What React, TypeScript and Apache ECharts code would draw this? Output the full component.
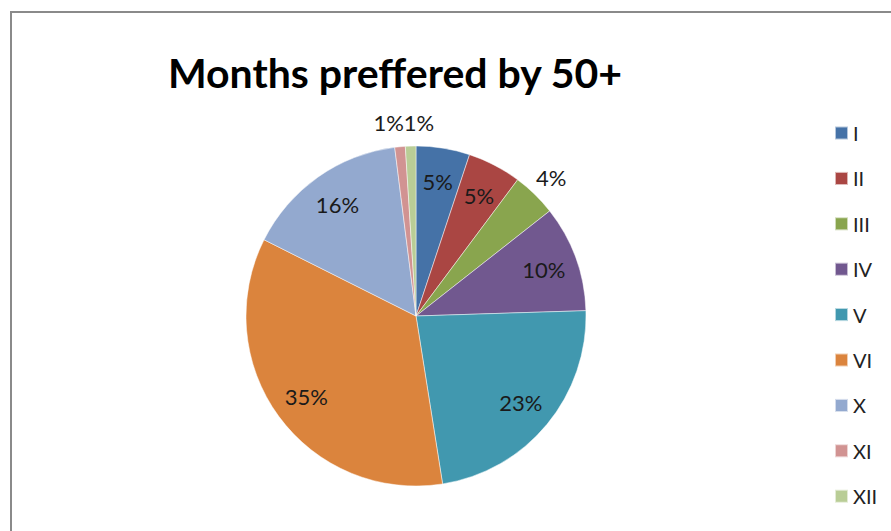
import React, { useEffect, useRef } from "react";
import * as echarts from "echarts";

const categories = ["I", "II", "III", "IV", "V", "VI", "X", "XI", "XII"];
const values = [5.1, 5.1, 4.2, 10.1, 23.0, 34.9, 15.6, 1.0, 1.0];
const colors = ["#4572A7", "#AA4643", "#89A54E", "#71588F", "#4198AF", "#DB843D", "#93A9CF", "#D19392", "#B9CD96"];
const outsideLabels = ["III", "XI", "XII"];
const titleText = "Months preffered by 50+";

const CX = 416;
const CY = 316;
const R = 170;

export default function App() {
  const ref = useRef<HTMLDivElement>(null);
  useEffect(() => {
    if (!ref.current) return;
    const chart = echarts.init(ref.current, null, { renderer: "svg" });
    const total = values.reduce((a, b) => a + b, 0);
    const cum: number[] = [];
    let acc = 0;
    values.forEach((v) => {
      cum.push(acc);
      acc += v;
    });
    const pt = (frac: number, r: number) => {
      const a = frac * Math.PI * 2;
      return [CX + r * Math.sin(a), CY - r * Math.cos(a)];
    };
    const n = categories.length;
    const isOut = (i: number) => outsideLabels.includes(categories[(i + n) % n]);

    chart.setOption({
      animation: false,
      graphic: [
        {
          type: "rect",
          shape: { x: 11, y: 12, width: 1000, height: 700 },
          style: { fill: "none", stroke: "#8a8a8a", lineWidth: 2 },
          silent: true,
          z: -10,
        },
        {
          type: "text",
          x: 395,
          y: 72,
          style: {
            text: titleText,
            fontFamily: "Lato",
            fontWeight: "bold",
            fontSize: 41,
            fill: "#000",
            textAlign: "center",
            textVerticalAlign: "middle",
          },
        },
      ],
      legend: {
        orient: "vertical",
        left: 834,
        top: 123,
        padding: 0,
        icon: "rect",
        itemWidth: 13,
        itemHeight: 13,
        itemGap: 25.4,
        data: categories,
        textStyle: { fontFamily: "Lato", fontSize: 20, color: "#222", lineHeight: 20 },
      },
      series: [
        {
          type: "pie",
          center: [CX, CY],
          radius: [0, R],
          startAngle: 90,
          clockwise: true,
          data: categories.map((c, i) => ({ name: c, value: values[i], itemStyle: { color: colors[i] } })),
          itemStyle: { borderColor: "rgba(255,255,255,0.6)", borderWidth: 0.8 },
          label: {
            show: true,
            position: "inside",
            formatter: (p: any) => Math.round((p.value / total) * 100) + "%",
            fontFamily: "Lato",
            fontSize: 22,
            color: "#1a1a1a",
          },
          labelLine: { show: false },
          labelLayout: (p: any) => {
            const i = p.dataIndex;
            const start = cum[i] / total;
            const end = (cum[i] + values[i]) / total;
            if (!isOut(i)) {
              const [x, y] = pt((start + end) / 2, R * 0.8);
              return { x, y, align: "center", verticalAlign: "middle" };
            }
            const rOut = R * 1.14;
            if (i < n - 1 && isOut(i + 1)) {
              const [x, y] = pt(end, rOut);
              return { x, y, align: "right", verticalAlign: "middle" };
            }
            if (i > 0 && isOut(i - 1)) {
              const [x, y] = pt(start, rOut);
              return { x, y, align: "left", verticalAlign: "middle" };
            }
            const [x, y] = pt((start + end) / 2, rOut);
            return { x, y, align: "center", verticalAlign: "middle" };
          },
        },
      ],
    });
    return () => chart.dispose();
  }, []);
  return (
    <div
      ref={ref}
      style={{ position: "fixed", left: 0, top: 0, width: 891, height: 531, background: "#fff" }}
    />
  );
}
